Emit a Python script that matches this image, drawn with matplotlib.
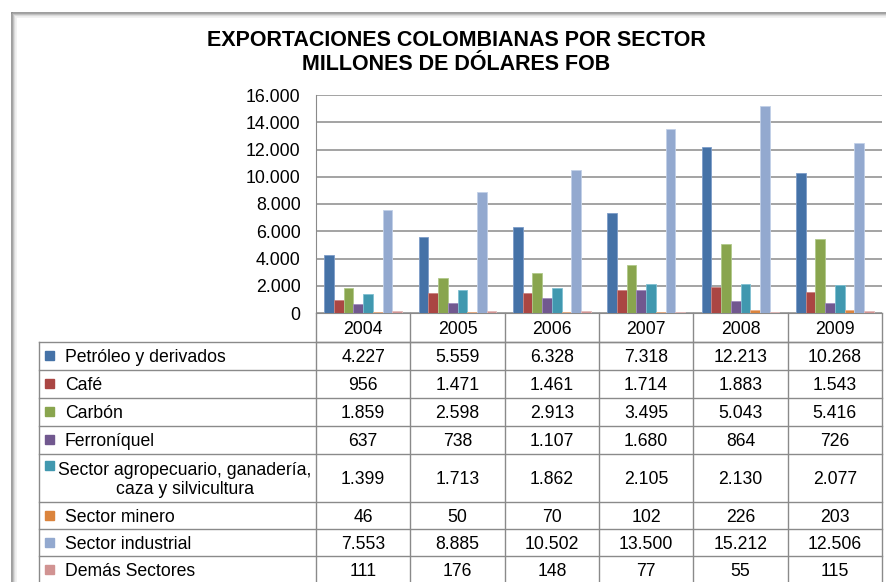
import matplotlib.pyplot as plt
import numpy as np
from matplotlib.ticker import FuncFormatter

years = ['2004', '2005', '2006', '2007', '2008', '2009']
sectors = ['Petróleo y derivados', 'Café', 'Carbón', 'Ferroníquel',
           'Sector agropecuario, ganadería,\ncaza y silvicultura',
           'Sector minero', 'Sector industrial', 'Demás Sectores']
petroleo = [4227, 5559, 6328, 7318, 12213, 10268]
cafe = [956, 1471, 1461, 1714, 1883, 1543]
carbon = [1859, 2598, 2913, 3495, 5043, 5416]
ferroniquel = [637, 738, 1107, 1680, 864, 726]
agro = [1399, 1713, 1862, 2105, 2130, 2077]
minero = [46, 50, 70, 102, 226, 203]
industrial = [7553, 8885, 10502, 13500, 15212, 12506]
demas = [111, 176, 148, 77, 55, 115]
series = [petroleo, cafe, carbon, ferroniquel, agro, minero, industrial, demas]
colors = ['#4572A7', '#AA4643', '#89A54E', '#71588F', '#4198AF', '#DB843D', '#93A9CF', '#D19392']
edges = ['#7d9cc8', '#c98482', '#b0c98a', '#a08cbd', '#7fc0d2', '#eab089', '#c2d0e8', '#e4bcbb']

W, H = 886, 582
plt.rcParams['font.family'] = 'Liberation Sans'
fig = plt.figure(figsize=(W / 100, H / 100), dpi=100)
fig.patch.set_facecolor('white')

def fx(px):
    return px / W

def fy(py):
    return 1 - py / H

# plot area in pixels
x0, x1, ytop, ybot = 316, 882, 95, 313
ax = fig.add_axes([fx(x0), fy(ybot), fx(x1 - x0), (ybot - ytop) / H])
ax.set_xlim(-0.5, 5.5)
ax.set_ylim(0, 16000)
ax.set_yticks(np.arange(0, 16001, 2000))
ax.yaxis.set_major_formatter(FuncFormatter(lambda v, p: f'{v:,.0f}'.replace(',', '.')))
ax.tick_params(axis='y', length=0, pad=11, labelsize=12.8)
ax.set_xticks([])
ax.grid(axis='y', color='#8a8a8a', linewidth=1.1)
ax.set_axisbelow(True)
for s in ['top', 'right']:
    ax.spines[s].set_visible(False)
ax.spines['left'].set_color('#8a8a8a')
ax.spines['bottom'].set_color('#8a8a8a')

bw = 0.103
xs = np.arange(len(years))
for i, vals in enumerate(series):
    ax.bar(xs + (i - 3.5) * bw, vals, width=bw, color=colors[i],
           edgecolor=edges[i], linewidth=0.6, zorder=3)

# overlay in pixel coordinates for title, frame and data table
ov = fig.add_axes([0, 0, 1, 1], facecolor='none')
ov.set_xlim(0, W)
ov.set_ylim(H, 0)
ov.axis('off')

# frame shadow
for k, c in enumerate(['#8c8c8c', '#a6a6a6', '#c4c4c4', '#dedede', '#f0f0f0']):
    ov.plot([12 + k, 12 + k], [13 + k, H], color=c, linewidth=1.2)
    ov.plot([12 + k, W], [13 + k, 13 + k], color=c, linewidth=1.2)

ov.text(456, 40, 'EXPORTACIONES COLOMBIANAS POR SECTOR', ha='center', va='center',
        fontsize=15.5, fontweight='bold')
ov.text(456, 64, 'MILLONES DE DÓLARES FOB', ha='center', va='center',
        fontsize=15.5, fontweight='bold')

# table
fs = 12.7
gc = '#8a8a8a'
colw = (x1 - x0) / len(years)
col_edges = [x0 + k * colw for k in range(len(years) + 1)]
row_edges = [342, 370, 398, 426, 454, 502, 529, 556, 584]
ov.plot([x0, x1], [342, 342], color=gc, linewidth=1)
for xe in col_edges:
    ov.plot([xe, xe], [ybot, H], color=gc, linewidth=1)
ov.plot([39, 39], [342, H], color=gc, linewidth=1)
for ye in row_edges:
    ov.plot([39, x1], [ye, ye], color=gc, linewidth=1)
for j, y in enumerate(years):
    ov.text(x0 + (j + 0.5) * colw, 329, y, ha='center', va='center', fontsize=fs)

for i, (name, vals) in enumerate(zip(sectors, series)):
    r0, r1 = row_edges[i], row_edges[i + 1]
    rc = (r0 + r1) / 2
    if '\n' in name:
        ov.add_patch(plt.Rectangle((45, 461), 9, 9, color=colors[i]))
        ov.text(185, rc + 2, name, ha='center', va='center', fontsize=fs,
                multialignment='center', linespacing=1.15)
    else:
        ov.add_patch(plt.Rectangle((45, rc - 5), 9, 9, color=colors[i]))
        ov.text(65, rc + 2, name, ha='left', va='center', fontsize=fs)
    for j, v in enumerate(vals):
        ov.text(x0 + (j + 0.5) * colw, rc + 2, f'{v:,}'.replace(',', '.'),
                ha='center', va='center', fontsize=fs)

fig.savefig('out.png', dpi=100)
